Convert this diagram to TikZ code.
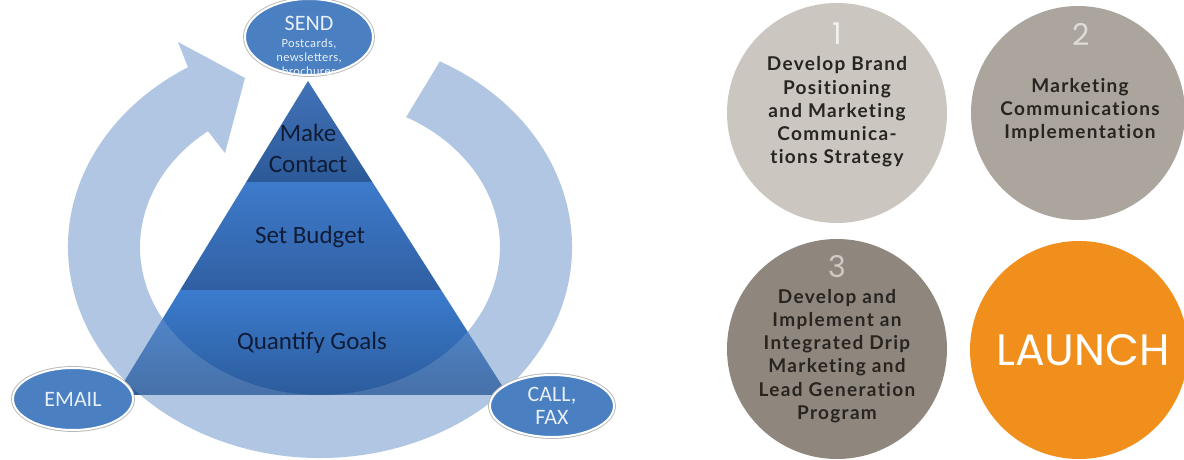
\documentclass[tikz,border=0pt]{standalone}
\usepackage{fontspec}
\setmainfont{Carlito}
\newfontfamily\gotham{Lato}[Ligatures=NoCommon, LetterSpace=7]
\newfontfamily\digits{Poppins}
\usetikzlibrary{calc,shapes.geometric}
\definecolor{ringblue}{RGB}{176,198,226}
\definecolor{bubblefill}{RGB}{74,127,193}
\definecolor{bubbletext}{RGB}{232,239,248}
\definecolor{pyrtext}{RGB}{16,28,54}
\definecolor{topA}{RGB}{66,114,184}
\definecolor{topB}{RGB}{44,90,152}
\definecolor{midA}{RGB}{62,123,204}
\definecolor{midB}{RGB}{48,95,162}
\definecolor{botA}{RGB}{59,123,205}
\definecolor{botB}{RGB}{44,92,156}
\definecolor{circA}{RGB}{204,198,192}
\definecolor{circB}{RGB}{172,165,158}
\definecolor{circC}{RGB}{143,135,126}
\definecolor{launch}{RGB}{241,143,28}
\definecolor{darktext}{RGB}{40,36,32}
\newcommand{\ringpath}{(C) ++(61.6:252pt and 211pt) arc[start angle=61.6, end angle=-238.4, x radius=252pt, y radius=211pt] -- (178,418) -- (245,382) -- (225,307) -- ($(C)+(128.5:180pt and 148pt)$) arc[start angle=128.5, end angle=421.4, x radius=180pt, y radius=148pt] -- cycle}
\tikzset{
  bubble/.style={ellipse, fill=bubblefill, draw=white, line width=2pt,
    preaction={draw=black!28, line width=3.8pt}, inner sep=0pt},
  bubbletxt/.style={text=bubbletext, font=\fontsize{22}{23}\selectfont, align=center, inner sep=0pt},
  pyrlabel/.style={text=pyrtext, font=\fontsize{25}{31}\selectfont, align=center, inner sep=0pt},
  disc/.style={circle, inner sep=0pt, minimum size=#1},
  numtxt/.style={font=\digits\fontsize{30}{32}\selectfont, inner sep=0pt},
  disctxt/.style={text=darktext, font=\gotham\bfseries\fontsize{19}{23.3}\selectfont, align=center, inner sep=0pt}
}
\begin{document}
\begin{tikzpicture}[x=1pt,y=1pt]
\useasboundingbox (0,0) rectangle (1184,460);
\fill[white] (0,0) rectangle (1184,460);
% ---------- circular arrow ----------
\coordinate (C) at (320,213);
\fill[ringblue] \ringpath;
% ---------- pyramid ----------
\coordinate (A) at (308,379);
\coordinate (L) at (116,65);
\coordinate (R) at (508,65);
\coordinate (L1) at ($(L)!0.678!(A)$);
\coordinate (R1) at ($(R)!0.678!(A)$);
\coordinate (L2) at ($(L)!0.334!(A)$);
\coordinate (R2) at ($(R)!0.334!(A)$);
\shade[top color=topA, bottom color=topB] (A) -- (L1) -- (R1) -- cycle;
\shade[top color=midA, bottom color=midB] (L1) -- (L2) -- (R2) -- (R1) -- cycle;
\shade[top color=botA, bottom color=botB] (L2) -- (L) -- (R) -- (R2) -- cycle;
\begin{scope}
  \clip (A) -- (L) -- (R) -- cycle;
  \fill[white, opacity=0.13] \ringpath;
\end{scope}
\node[pyrlabel] (make) at (308,312) {Make\\Contact};
\node[pyrlabel] (budget) at (310,223) {Set Budget};
\node[pyrlabel] (goals) at (312,117) {Quantify Goals};
% ---------- bubbles ----------
\node[bubble, minimum width=128pt, minimum height=76pt] (send) at (309,423) {};
\node[bubbletxt] (sendt) at (309,437) {SEND};
\node[bubbletxt, font=\addfontfeature{LetterSpace=3}\fontsize{12.5}{14}\selectfont] (sendsub) at (309,403) {Postcards,\\newsletters,\\brochures};
\node[bubble, minimum width=120pt, minimum height=62pt] (email) at (73,61) {};
\node[bubbletxt] (emailt) at (email.center) {EMAIL};
\node[bubble, minimum width=124pt, minimum height=62pt] (call) at (552,54) {};
\node[bubbletxt] (callt) at (call.center) {CALL,\\FAX};
% ---------- right-hand discs ----------
\node[disc=220pt, fill=circA] (d1) at (837,347) {};
\node[disc=214pt, fill=circB] (d2) at (1078,347) {};
\node[disc=220pt, fill=circC] (d3) at (837,111) {};
\node[disc=218pt, fill=launch] (d4) at (1079,110) {};
\node[numtxt, text=white!75!circA] (n1) at (837,426) {1};
\node[numtxt, text=white!60!circB] (n2) at (1081,426) {2};
\node[numtxt, text=white!55!circC] (n3) at (837,193) {3};
\node[disctxt] (t1) at (837,348) {Develop Brand\\Positioning\\and Marketing\\Communica-\\tions Strategy};
\node[disctxt] (t2) at (1080,350) {Marketing\\Communications\\Implementation};
\node[disctxt] (t3) at (837,104) {Develop and\\Implement an\\Integrated Drip\\Marketing and\\Lead Generation\\Program};
\node[text=white, font=\digits\fontsize{44}{46}\selectfont, inner sep=0pt] (launcht) at (1083,110) {LAUNCH};
\end{tikzpicture}
\end{document}
